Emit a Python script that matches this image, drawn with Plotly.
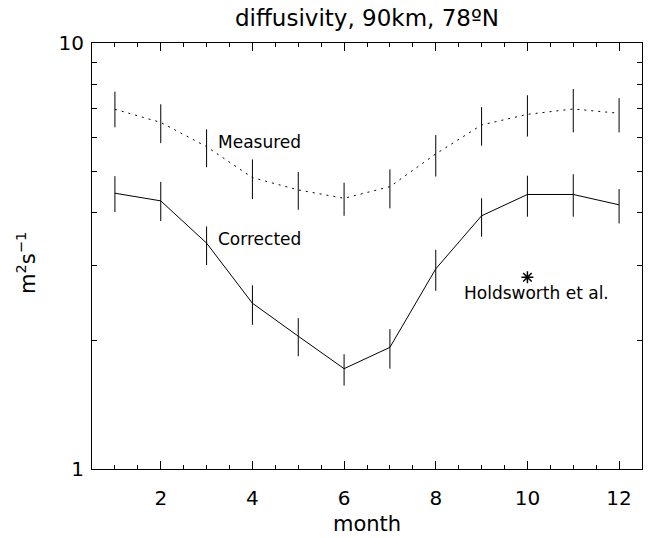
import plotly.graph_objects as go
import math

months = [1, 2, 3, 4, 5, 6, 7, 8, 9, 10, 11, 12]
measured = [6.99, 6.51, 5.71, 4.83, 4.52, 4.32, 4.60, 5.49, 6.42, 6.80, 7.00, 6.84]
measured_hi = [7.69, 7.18, 6.27, 5.33, 4.98, 4.70, 5.05, 6.08, 7.07, 7.54, 7.80, 7.42]
measured_lo = [6.34, 5.82, 5.11, 4.30, 4.06, 3.93, 4.09, 4.86, 5.74, 6.03, 6.17, 6.17]
corrected = [4.44, 4.26, 3.39, 2.45, 2.05, 1.72, 1.93, 2.95, 3.93, 4.41, 4.41, 4.17]
corrected_hi = [4.87, 4.72, 3.71, 2.70, 2.26, 1.86, 2.13, 3.27, 4.32, 4.88, 4.92, 4.54]
corrected_lo = [4.01, 3.82, 3.01, 2.18, 1.84, 1.57, 1.72, 2.62, 3.51, 3.91, 3.91, 3.77]
holdsworth_month = [10]
holdsworth_value = [2.82]

x_tickvals = [2, 4, 6, 8, 10, 12]
y_tickvals = [1, 10]
y_minorvals = [2, 3, 4, 5, 6, 7, 8, 9]

FONT = "DejaVu Sans"
BLACK = "#000000"


def err(vals, hi, lo):
    return dict(type="data", symmetric=False,
                array=[h - v for v, h in zip(vals, hi)],
                arrayminus=[v - l for v, l in zip(vals, lo)],
                width=0, thickness=1, color=BLACK)


fig = go.Figure()
fig.add_trace(go.Scatter(x=months, y=measured, mode="lines",
                         line=dict(color=BLACK, width=1, dash="2px,5px"),
                         error_y=err(measured, measured_hi, measured_lo),
                         showlegend=False))
fig.add_trace(go.Scatter(x=months, y=corrected, mode="lines",
                         line=dict(color=BLACK, width=1),
                         error_y=err(corrected, corrected_hi, corrected_lo),
                         showlegend=False))
fig.add_trace(go.Scatter(x=holdsworth_month, y=holdsworth_value, mode="markers",
                         marker=dict(symbol="asterisk-open", size=10, color=BLACK,
                                     line=dict(color=BLACK, width=1.5)),
                         showlegend=False))

fig.add_annotation(x=3.2, y=math.log10(5.87), text="Measured", showarrow=False,
                   xanchor="left", yanchor="middle", font=dict(family=FONT, size=17, color=BLACK))
fig.add_annotation(x=3.2, y=math.log10(3.46), text="Corrected", showarrow=False,
                   xanchor="left", yanchor="middle", font=dict(family=FONT, size=17, color=BLACK))
fig.add_annotation(x=10.2, y=math.log10(2.585), text="Holdsworth et al.", showarrow=False,
                   xanchor="center", yanchor="middle", font=dict(family=FONT, size=17, color=BLACK))

fig.add_annotation(xref="paper", yref="paper", x=0.5, y=-55 / 426, text="month",
                   showarrow=False, xanchor="center", yanchor="middle",
                   font=dict(family=FONT, size=21, color=BLACK))
fig.add_annotation(xref="paper", yref="paper", x=-66 / 550, y=0.5 - 7 / 426,
                   text="m<sup>2</sup>s<sup>−1</sup>", textangle=-90,
                   showarrow=False, xanchor="center", yanchor="middle",
                   font=dict(family=FONT, size=21, color=BLACK))

axis_common = dict(showgrid=False, zeroline=False, showline=True, linecolor=BLACK,
                   linewidth=1, mirror="allticks", ticks="inside", tickcolor=BLACK,
                   tickwidth=1, automargin=False,
                   tickfont=dict(family=FONT, size=20, color=BLACK))

fig.update_xaxes(range=[0.5, 12.5], tickvals=x_tickvals, ticklen=8,
                 minor=dict(dtick=0.5, tick0=0, ticks="inside", ticklen=4,
                            tickcolor=BLACK, showgrid=False),
                 ticklabelstandoff=11, **axis_common)
fig.update_yaxes(type="log", range=[0, 1], tickvals=y_tickvals, ticklen=8,
                 minor=dict(tickvals=y_minorvals, ticks="inside", ticklen=5,
                            tickcolor=BLACK, showgrid=False),
                 ticklabelstandoff=3, **axis_common)

fig.update_layout(
    width=650, height=538,
    margin=dict(l=92, r=8, t=43, b=69, autoexpand=False),
    paper_bgcolor="white", plot_bgcolor="white",
    title=dict(text="diffusivity, 90km, 78ºN", x=(92 + 275) / 650, xanchor="center",
               y=1 - 18 / 538, yanchor="middle", yref="container", xref="container",
               automargin=False,
               font=dict(family=FONT, size=23, color=BLACK)),
)

fig.write_html("out.html", config={"displayModeBar": False},
               post_script="document.body.style.margin='0';document.body.style.overflow='hidden';")
